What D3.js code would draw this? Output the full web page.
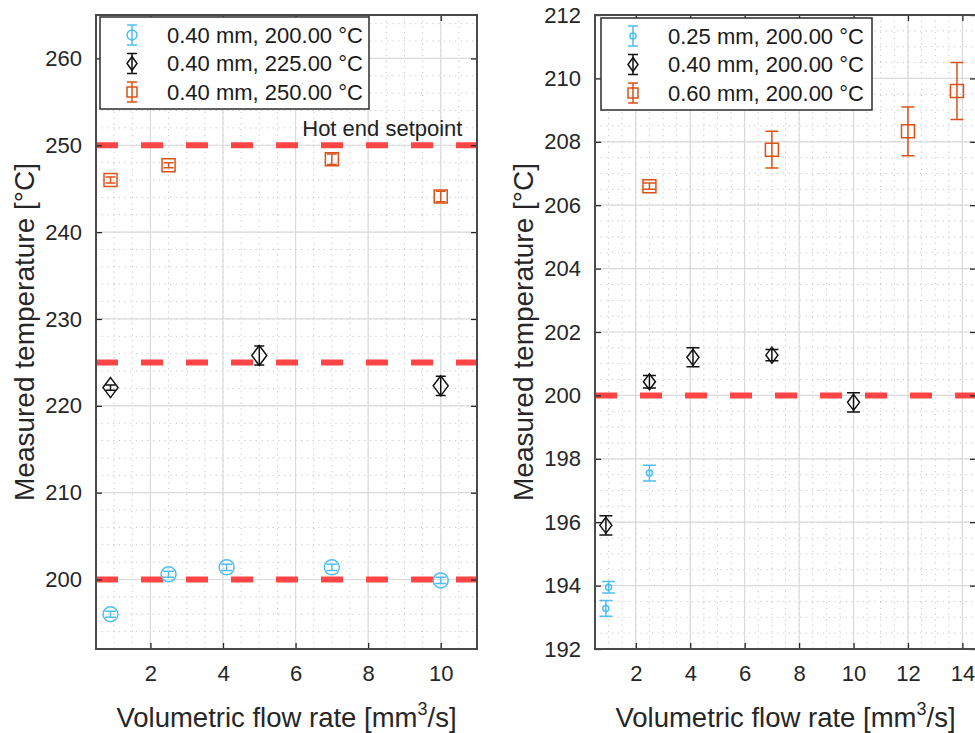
<!DOCTYPE html>
<html>
<head>
<meta charset="utf-8">
<script src="https://cdn.jsdelivr.net/npm/d3@7"></script>
<style>
  body { margin: 0; background: #fff; }
  svg { display: block; font-family: "Liberation Sans", Arial, sans-serif; }
</style>
</head>
<body>
<div class="chart"></div>
<script>
// left panel: 0.40 mm nozzle at three setpoints
const leftBlueX = [0.9, 2.5, 4.1, 7.0, 10.0]
const leftBlueY = [196.0, 200.6, 201.4, 201.4, 199.9]
const leftBlueErr = [0.35, 0.35, 0.35, 0.35, 0.35]
const leftBlackX = [0.9, 5.0, 10.0]
const leftBlackY = [222.1, 225.8, 222.3]
const leftBlackErr = [0.3, 1.1, 1.1]
const leftOrangeX = [0.9, 2.5, 7.0, 10.0]
const leftOrangeY = [246.0, 247.7, 248.4, 244.1]
const leftOrangeErr = [0.35, 0.3, 0.6, 0.6]
const leftSetpoints = [200, 225, 250]
const leftLabels = ["0.40 mm, 200.00 °C", "0.40 mm, 225.00 °C", "0.40 mm, 250.00 °C"]
const leftXTicks = [2, 4, 6, 8, 10]
const leftYTicks = [200, 210, 220, 230, 240, 250, 260]

// right panel: three nozzles at 200 °C
const rightBlueX = [1.0, 0.9, 2.5]
const rightBlueY = [193.95, 193.28, 197.55]
const rightBlueErr = [0.18, 0.25, 0.25]
const rightBlackX = [0.9, 2.5, 4.1, 7.0, 10.0]
const rightBlackY = [195.9, 200.43, 201.2, 201.27, 199.78]
const rightBlackErr = [0.3, 0.2, 0.3, 0.18, 0.3]
const rightOrangeX = [2.5, 7.0, 12.0, 13.8]
const rightOrangeY = [206.6, 207.75, 208.33, 209.6]
const rightOrangeErr = [0.1, 0.58, 0.77, 0.9]
const rightSetpoints = [200]
const rightLabels = ["0.25 mm, 200.00 °C", "0.40 mm, 200.00 °C", "0.60 mm, 200.00 °C"]
const rightXTicks = [2, 4, 6, 8, 10, 12, 14]
const rightYTicks = [192, 194, 196, 198, 200, 202, 204, 206, 208, 210, 212]

const BLUE = "#4DBEEE"
const BLACK = "#111111"
const ORANGE = "#D95319"
const width = 975
const height = 733

const svg = d3.select(".chart").append("svg").attr("width", width).attr("height", height)

const markerPath = (type, cx, cy, s) => {
  if (type === "circle") {
    return `M${cx - s.r},${cy}a${s.r},${s.r} 0 1,0 ${2 * s.r},0a${s.r},${s.r} 0 1,0 ${-2 * s.r},0Z`
  }
  if (type === "diamond") {
    return `M${cx},${cy - s.h}L${cx + s.w},${cy}L${cx},${cy + s.h}L${cx - s.w},${cy}Z`
  }
  return `M${cx - s.r},${cy - s.r}h${2 * s.r}v${2 * s.r}h${-2 * s.r}Z`
}

const drawPanel = cfg => {
  const { box } = cfg
  const x = d3.scaleLinear().domain(cfg.xDomain).range([box.left, box.right])
  const y = d3.scaleLinear().domain(cfg.yDomain).range([box.bottom, box.top])
  const g = svg.append("g")

  // minor grid (dotted)
  const minor = g.append("g").attr("stroke", "#c4c4c4").attr("stroke-width", 1).attr("stroke-dasharray", "1.2,4.5")
  minor.selectAll(".mx").data(d3.range(cfg.xDomain[0], cfg.xDomain[1] + 1e-6, cfg.xMinor)).enter().append("line")
    .attr("x1", d => x(d)).attr("x2", d => x(d)).attr("y1", box.top).attr("y2", box.bottom)
  minor.selectAll(".my").data(d3.range(cfg.yDomain[0], cfg.yDomain[1] + 1e-6, cfg.yMinor)).enter().append("line")
    .attr("y1", d => y(d)).attr("y2", d => y(d)).attr("x1", box.left).attr("x2", box.right)

  // major grid
  const major = g.append("g").attr("stroke", "#dadada").attr("stroke-width", 1.2)
  major.selectAll(".gx").data(cfg.xTicks).enter().append("line")
    .attr("x1", d => x(d)).attr("x2", d => x(d)).attr("y1", box.top).attr("y2", box.bottom)
  major.selectAll(".gy").data(cfg.yTicks).enter().append("line")
    .attr("y1", d => y(d)).attr("y2", d => y(d)).attr("x1", box.left).attr("x2", box.right)

  // setpoint lines
  g.append("g").selectAll("line").data(cfg.setpoints).enter().append("line")
    .attr("x1", box.left).attr("x2", box.right)
    .attr("y1", d => y(d)).attr("y2", d => y(d))
    .attr("stroke", "#ff3b3b").attr("stroke-opacity", 0.95).attr("stroke-width", 6)
    .attr("stroke-dasharray", "22,23")

  if (cfg.setpointLabel) {
    g.append("text").attr("x", x(cfg.setpointLabel.x)).attr("y", y(cfg.setpointLabel.y) - 9)
      .attr("text-anchor", "end").attr("font-size", 22).attr("fill", "#222")
      .text(cfg.setpointLabel.text)
  }

  // error bars + markers
  cfg.series.forEach(s => {
    const pts = s.x.map((d, i) => ({ x: d, y: s.y[i], e: s.err[i] }))
    const grp = g.append("g").attr("stroke", s.color).attr("fill", "none").attr("stroke-width", 1.5)
    grp.selectAll(".bar").data(pts).enter().append("path")
      .attr("d", d => {
        const cx = x(d.x), t = y(d.y + d.e), b = y(d.y - d.e), w = s.cap
        return `M${cx},${t}V${b}M${cx - w},${t}H${cx + w}M${cx - w},${b}H${cx + w}`
      })
    grp.selectAll(".mk").data(pts).enter().append("path")
      .attr("d", d => markerPath(s.marker, x(d.x), y(d.y), s.size))
  })

  // axes: inward ticks on all sides
  const tick = 6
  const axisFont = g => g.selectAll("text").attr("font-size", 22).attr("fill", "#262626").attr("font-family", "inherit")
  g.append("g").attr("transform", `translate(0,${box.bottom})`)
    .call(d3.axisBottom(x).tickValues(cfg.xTicks).tickSize(-tick).tickPadding(16))
    .call(axisFont)
  g.append("g").attr("transform", `translate(0,${box.top})`)
    .call(d3.axisTop(x).tickValues(cfg.xTicks).tickSize(-tick).tickFormat(""))
  g.append("g").attr("transform", `translate(${box.left},0)`)
    .call(d3.axisLeft(y).tickValues(cfg.yTicks).tickSize(-tick).tickPadding(14))
    .call(axisFont)
  g.append("g").attr("transform", `translate(${box.right},0)`)
    .call(d3.axisRight(y).tickValues(cfg.yTicks).tickSize(-tick).tickFormat(""))
  g.selectAll(".domain").remove()
  g.selectAll(".tick line").attr("stroke", "#262626").attr("stroke-width", 1.3)

  g.append("rect").attr("x", box.left).attr("y", box.top)
    .attr("width", box.right - box.left).attr("height", box.bottom - box.top)
    .attr("fill", "none").attr("stroke", "#4a4a4a").attr("stroke-width", 2)

  // axis titles
  const xt = g.append("text").attr("x", (box.left + box.right) / 2).attr("y", 727)
    .attr("text-anchor", "middle").attr("font-size", 27.5).attr("fill", "#262626")
  xt.append("tspan").text("Volumetric flow rate [mm")
  xt.append("tspan").attr("font-size", 18).attr("dy", -12).text("3")
  xt.append("tspan").attr("dy", 12).text("/s]")

  g.append("text")
    .attr("transform", `translate(${cfg.yTitleX},${(box.top + box.bottom) / 2}) rotate(-90)`)
    .attr("text-anchor", "middle").attr("font-size", 28).attr("fill", "#262626")
    .text("Measured temperature [°C]")

  // legend
  const L = cfg.legend
  const lg = g.append("g")
  lg.append("rect").attr("x", L.x).attr("y", L.y).attr("width", L.w).attr("height", L.h)
    .attr("fill", "#fff").attr("stroke", "#3a3a3a").attr("stroke-width", 1.6)
  cfg.series.forEach((s, i) => {
    const cy = L.y + 18 + i * 28.5
    const cx = L.x + 32
    lg.append("path").attr("fill", "none").attr("stroke", s.color).attr("stroke-width", 1.5)
      .attr("d", `M${cx},${cy - 10}V${cy + 10}M${cx - 5},${cy - 10}H${cx + 5}M${cx - 5},${cy + 10}H${cx + 5}`)
    lg.append("path").attr("fill", "none").attr("stroke", s.color).attr("stroke-width", 1.5)
      .attr("d", markerPath(s.marker, cx, cy, s.legendSize))
    lg.append("text").attr("x", L.x + 67).attr("y", cy).attr("dy", "0.36em")
      .attr("font-size", 22).attr("fill", "#1a1a1a").text(cfg.labels[i])
  })
}

drawPanel({
  box: { left: 96, right: 477, top: 15, bottom: 649 },
  xDomain: [0.5, 11], yDomain: [192, 265],
  xTicks: leftXTicks, yTicks: leftYTicks, xMinor: 0.5, yMinor: 2,
  setpoints: leftSetpoints,
  setpointLabel: { x: 10.6, y: 250, text: "Hot end setpoint" },
  yTitleX: 34,
  labels: leftLabels,
  legend: { x: 100, y: 17, w: 269, h: 92 },
  series: [
    { x: leftBlueX, y: leftBlueY, err: leftBlueErr, color: BLUE, marker: "circle", size: { r: 7.5 }, legendSize: { r: 5 }, cap: 5.5 },
    { x: leftBlackX, y: leftBlackY, err: leftBlackErr, color: BLACK, marker: "diamond", size: { w: 7.5, h: 10 }, legendSize: { w: 5, h: 7 }, cap: 5 },
    { x: leftOrangeX, y: leftOrangeY, err: leftOrangeErr, color: ORANGE, marker: "square", size: { r: 6.5 }, legendSize: { r: 5 }, cap: 5 }
  ]
})

drawPanel({
  box: { left: 595, right: 976, top: 15, bottom: 649 },
  xDomain: [0.5, 14.5], yDomain: [192, 212],
  xTicks: rightXTicks, yTicks: rightYTicks, xMinor: 0.5, yMinor: 0.5,
  setpoints: rightSetpoints,
  yTitleX: 533,
  labels: rightLabels,
  legend: { x: 601, y: 18, w: 271, h: 92 },
  series: [
    { x: rightBlueX, y: rightBlueY, err: rightBlueErr, color: BLUE, marker: "circle", size: { r: 3 }, legendSize: { r: 3 }, cap: 6.5 },
    { x: rightBlackX, y: rightBlackY, err: rightBlackErr, color: BLACK, marker: "diamond", size: { w: 6, h: 8 }, legendSize: { w: 5, h: 7 }, cap: 6.5 },
    { x: rightOrangeX, y: rightOrangeY, err: rightOrangeErr, color: ORANGE, marker: "square", size: { r: 6.5 }, legendSize: { r: 5 }, cap: 6.5 }
  ]
})
</script>
</body>
</html>
